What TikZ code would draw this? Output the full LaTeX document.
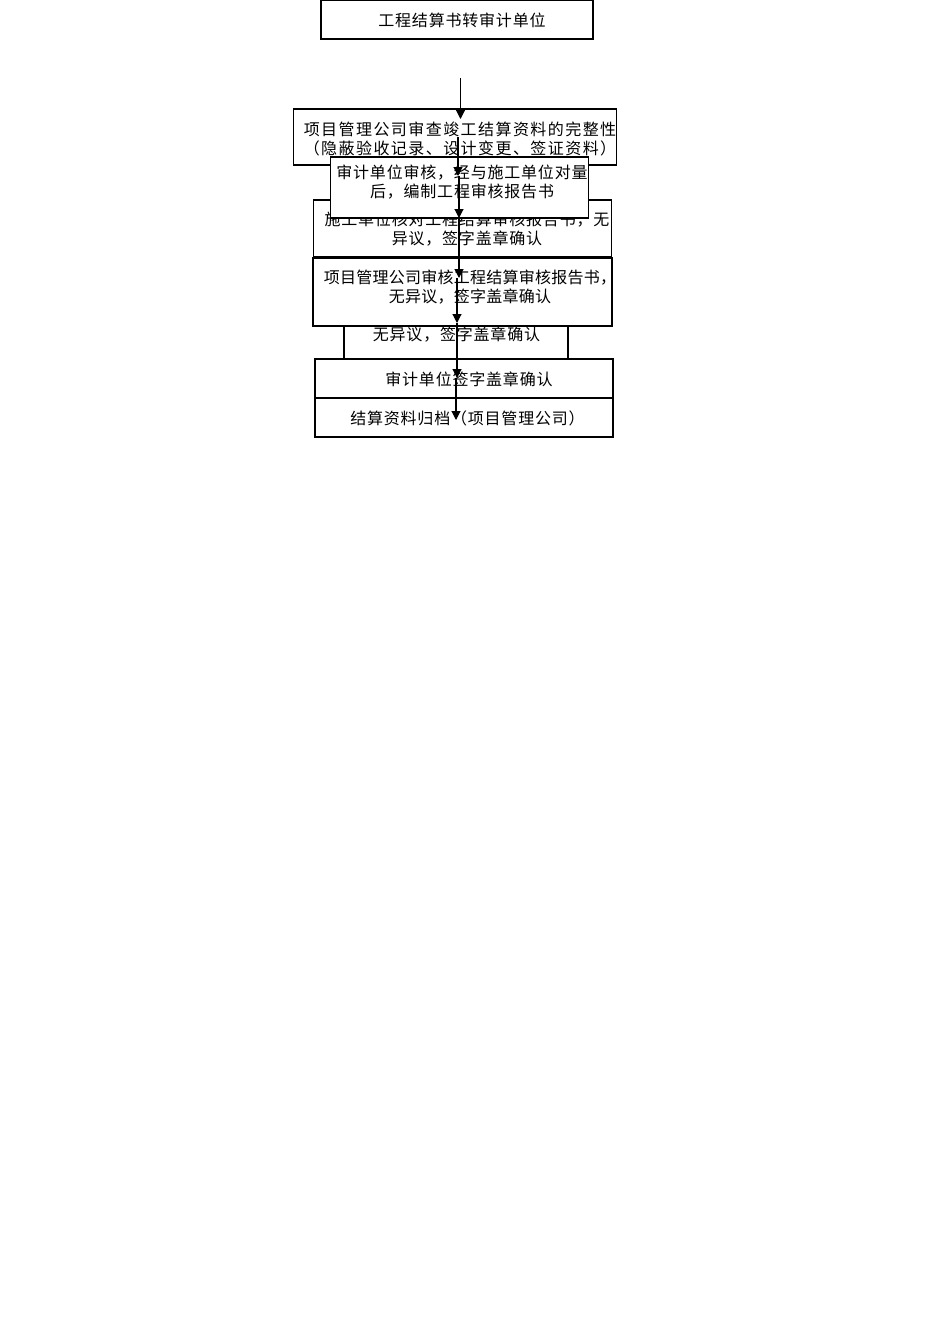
\documentclass[tikz,border=0pt]{standalone}
\usepackage{fontspec}
\setmainfont{Noto Sans CJK SC}[LetterSpace=5]
\usetikzlibrary{arrows.meta}
\begin{document}
\begin{tikzpicture}[x=1pt,y=-1pt,
  box/.style={draw=black,line width=1.1pt,fill=white,inner sep=0pt},
  lbl/.style={inner sep=0pt,align=center,font=\fontsize{16pt}{19pt}\selectfont},
  wide/.style={font=\fontsize{16pt}{19pt}\selectfont\addfontfeatures{LetterSpace=9}},
  tight/.style={font=\fontsize{16pt}{19pt}\selectfont\addfontfeatures{LetterSpace=1.5}},
  arr/.style={draw=black,line width=1.1pt,-{Triangle[length=9pt,width=9pt]}}]
\useasboundingbox[fill=white] (0,0) rectangle (950,1344);
% boxes
\node[box,minimum width=272pt,minimum height=38.5pt] (b1) at (457,19.75) {};
\node[lbl] (t1) at (462,20) {工程结算书转审计单位};
\node[box,minimum width=323pt,minimum height=56pt] (b2) at (455,137) {};
\node[lbl,wide] (t2) at (460,138.5) {项目管理公司审查竣工结算资料的完整性\\（隐蔽验收记录、设计变更、签证资料）};
\node[box,minimum width=298pt,minimum height=57pt] (b4) at (462.5,228.5) {};
\node[lbl] (t4) at (467,229.5) {施工单位核对工程结算审核报告书，无\\异议，签字盖章确认};
\node[box,minimum width=258pt,minimum height=61pt] (b3) at (459.5,187.5) {};
\node[lbl] (t3) at (462,182.5) {审计单位审核，经与施工单位对量\\后，编制工程审核报告书};
\node[box,minimum width=224pt,minimum height=33pt] (b6) at (456,342.5) {};
\node[lbl] (t6) at (456.5,335) {无异议，签字盖章确认};
\node[box,minimum width=299pt,minimum height=68pt] (b5) at (462.5,292) {};
\node[lbl,tight] (t5) at (470,287.5) {项目管理公司审核工程结算审核报告书，\\无异议，签字盖章确认};
\node[box,minimum width=298pt,minimum height=39pt] (b7) at (464,378.5) {};
\node[lbl] (t7) at (469,379) {审计单位签字盖章确认};
\node[box,minimum width=298pt,minimum height=39pt] (b8) at (464,417.5) {};
\node[lbl] (t8) at (467.5,418) {结算资料归档（项目管理公司）};
% arrow points
\coordinate (p0) at (460.5,78);
\coordinate (p1) at (460.5,119);
\coordinate (q1) at (458,137);
\coordinate (p2) at (458,176);
\coordinate (q2) at (459,176);
\coordinate (p3) at (459,218);
\coordinate (p4) at (459,278);
\coordinate (q4) at (457,278);
\coordinate (p5) at (457,323);
\coordinate (p6) at (457,378);
\coordinate (q6) at (456,378);
\coordinate (p7) at (456,420);
\draw[arr] (p0) -- (p1);
\draw[arr] (q1) -- (p2);
\draw[arr] (q2) -- (p3);
\draw[arr] (p3) -- (p4);
\draw[arr] (q4) -- (p5);
\draw[arr] (p5) -- (p6);
\draw[arr] (q6) -- (p7);
\end{tikzpicture}
\end{document}
